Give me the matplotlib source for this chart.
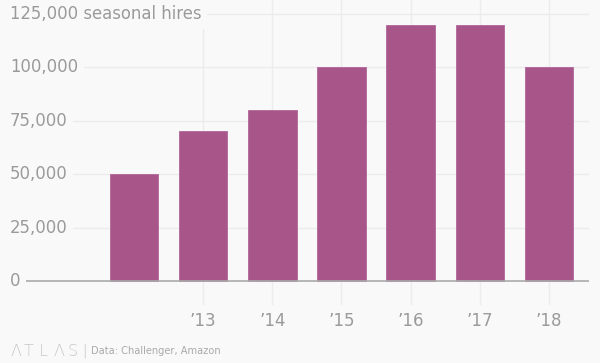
import matplotlib
matplotlib.use("Agg")
import matplotlib.pyplot as plt
from matplotlib.transforms import blended_transform_factory

years = [2012, 2013, 2014, 2015, 2016, 2017, 2018]
hires = [50000, 70000, 80000, 100000, 120000, 120000, 100000]
tick_labels = ["", "\u201913", "\u201914", "\u201915", "\u201916", "\u201917", "\u201918"]
y_ticks = [0, 25000, 50000, 75000, 100000, 125000]
y_labels = ["0", "25,000", "50,000", "75,000", "100,000", "125,000 seasonal hires"]

BG = "#f9f9f9"
BAR = "#a8558a"
GRID = "#ececec"
TXT = "#9a9a9a"

W, H = 600, 363
fig = plt.figure(figsize=(W / 100, H / 100), dpi=100, facecolor=BG)

left, right, top, bottom = 25, 589, 0, 305
ax = fig.add_axes([left / W, 1 - bottom / H, (right - left) / W, (bottom - top) / H])
ax.set_facecolor(BG)
for s in ax.spines.values():
    s.set_visible(False)

per_px = 125000 / (281 - 14)
ax.set_ylim(-(305 - 281) * per_px, 125000 + 14 * per_px)
step = 69.17
ax.set_xlim(years[0] - (134 - left) / step, years[-1] + (right - 549) / step)

for yt in y_ticks[1:]:
    ax.axhline(yt, color=GRID, lw=1, zorder=0)
for x in years[1:]:
    ax.axvline(x, color=GRID, lw=1, zorder=0)

ax.bar(years, hires, width=0.7, color=BAR, edgecolor="#b0669a", linewidth=0.6, zorder=2)
ax.axhline(0, color="#aaaaaa", lw=1.2, zorder=3)

ax.set_xticks([])
ax.set_yticks([])

trans = blended_transform_factory(fig.transFigure, ax.transData)
for yt, lab in zip(y_ticks, y_labels):
    ax.text(10 / W, yt, lab, transform=trans, ha="left", va="center",
            fontsize=11.9, color=TXT, family="DejaVu Sans", zorder=4,
            bbox=dict(facecolor=BG, edgecolor="none", pad=4), clip_on=False)

transx = blended_transform_factory(ax.transData, fig.transFigure)
for x, lab in zip(years, tick_labels):
    if lab:
        ax.text(x, 1 - 321 / H, lab, transform=transx, ha="center", va="center",
                fontsize=12, color=TXT, family="DejaVu Sans", clip_on=False)

logo = ["\u039b", "T", "L", "\u039b", "S"]
logo_x = [16, 29, 43.5, 59, 72.5]
for ch, lx in zip(logo, logo_x):
    fig.text(lx / W, 1 - 351 / H, ch, ha="center", va="center",
             fontsize=11.5, color="#c8c8c8", family="DejaVu Sans", fontweight="light")
fig.text(85 / W, 1 - 351 / H, "|", ha="center", va="center", fontsize=10, color="#d6d6d6")
fig.text(91 / W, 1 - 351 / H, "Data: Challenger, Amazon", ha="left", va="center",
         fontsize=7.1, color="#aaaaaa", family="DejaVu Sans")

fig.savefig("out.png", dpi=100, facecolor=BG)
